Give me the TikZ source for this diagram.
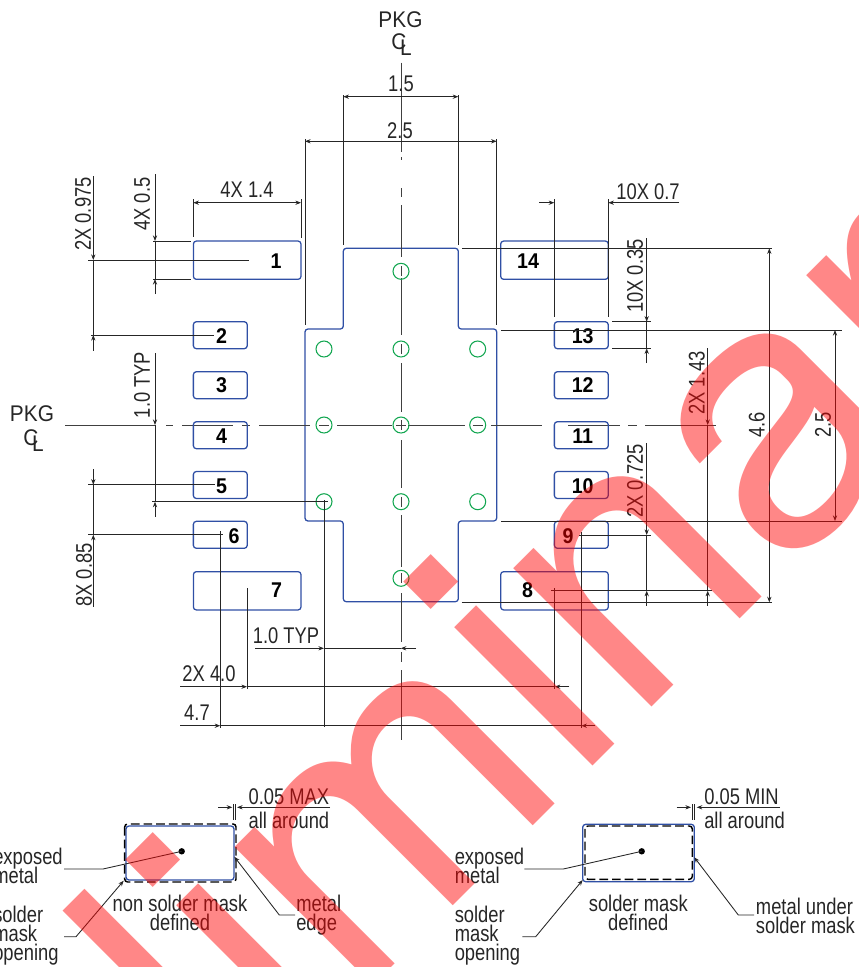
\documentclass[tikz,border=0pt]{standalone}
\usepackage{fontspec}
\setmainfont[FakeStretch=0.81]{Liberation Sans}
\newfontfamily\pkgfont[FakeStretch=0.92]{Liberation Sans}
\newfontfamily\wmfont{TeX Gyre Heros}
\usetikzlibrary{arrows.meta, positioning}
\AtBeginDocument{\lineskiplimit=-20pt}

\tikzset{
	pad/.style={draw=padblue, line width=0.95pt, rounded corners=2.2pt, inner sep=0pt},
	padwide/.style={pad, minimum width=80.7pt, minimum height=28.7pt},
	padsmall/.style={pad, minimum width=40.4pt, minimum height=20.2pt},
	padnum/.style={inner sep=0pt, font=\pkgfont\fontsize{16}{16}\selectfont\bfseries},
	via/.style={circle, draw=viagreen, line width=0.8pt, minimum size=12pt, inner sep=0pt},
	dimtext/.style={inner sep=0pt, text=black!85, font=\fontsize{17}{14.3}\selectfont},
	pkgtext/.style={inner sep=0pt, text=black!85, font=\pkgfont\fontsize{17}{17}\selectfont},
	dimline/.style={draw=black!85, line width=0.65pt},
	dimarrow/.style={dimline, -{Stealth[length=4.2pt,width=3.2pt]}},
	dimboth/.style={dimline, {Stealth[length=4.2pt,width=3.2pt]}-{Stealth[length=4.2pt,width=3.2pt]}},
	cline/.style={draw=black!75, line width=0.65pt}
}
\definecolor{padblue}{HTML}{2F4FA5}
\definecolor{viagreen}{HTML}{12A650}

\begin{document}
\begin{tikzpicture}[x=0.75pt, y=-0.75pt]
	\path[use as bounding box, clip] (0,0) rectangle (858,967);

	% exposed thermal pad
	\draw[padblue, line width=0.95pt, rounded corners=2.2pt] (343.3,248.3) -- (458.3,248.3) -- (458.3,329)
		-- (496.7,329) -- (496.7,521) -- (458.3,521) -- (458.3,601.7) -- (343.3,601.7) -- (343.3,521)
		-- (305,521) -- (305,329) -- (343.3,329) -- cycle;

	% centre lines
	\draw[cline] (401,62.7) -- (401,152) (401,157) -- (401,160) (401,188) -- (401,197) (401,205) -- (401,257)
		(401,278) -- (401,335) (401,363) -- (401,412) (401,440) -- (401,488) (401,515) -- (401,567)
		(401,593) -- (401,642) (401,652) -- (401,662) (401,670) -- (401,740);
	\draw[cline] (65,425) -- (155,425) (166,425) -- (173,425) (182,425) -- (233,425) (242,425) -- (250,425)
		(259,425) -- (310,425) (337,425) -- (392,425) (408,425) -- (465,425) (491,425) -- (541.7,425)
		(568,425) -- (620,425) (628,425) -- (637,425) (645,425) -- (716,425);

	% vias
	\foreach \x/\y/\name in {401/271.3/a, 324/349/b, 401/349/c, 477.7/349/d, 401/501.7/e, 477.7/501.7/f, 324/501.7/g, 401/578.3/h, 324/425/i, 401/425/j, 477.7/425/k}
		\node[via] (via\name) at (\x,\y) {};
	\foreach \x/\y in {401/271.3, 401/349, 401/425, 401/501.7, 401/578.3}
		\draw[cline] (\x,\y-5) -- (\x,\y+5);
	\foreach \x in {324, 401, 477.7}
		\draw[cline] (\x-5,425) -- (\x+5,425);

	% pads
	\node[padwide] (pad1) at (247.2,260.2) {};
	\node[padsmall] (pad2) at (220.3,335.2) {};
	\node[padsmall] (pad3) at (220.3,385.2) {};
	\node[padsmall] (pad4) at (220.3,435.2) {};
	\node[padsmall] (pad5) at (220.3,485) {};
	\node[padsmall] (pad6) at (220.3,534.8) {};
	\node[padwide] (pad7) at (247.2,590.8) {};
	\node[padwide] (pad8) at (554.5,590.8) {};
	\node[padsmall] (pad9) at (581.3,534.8) {};
	\node[padsmall] (pad10) at (581.3,485) {};
	\node[padsmall] (pad11) at (581.3,435.2) {};
	\node[padsmall] (pad12) at (581.3,385.2) {};
	\node[padsmall] (pad13) at (581.3,335.2) {};
	\node[padwide] (pad14) at (554.5,260.2) {};

	\foreach \x/\y/\n in {276/261/1, 221.5/336.5/2, 221.5/385/3, 221.5/436/4, 221.5/486/5, 234/536/6, 276.5/590/7, 527.7/590/8, 568/536/9, 582.7/486/10, 582.7/436/11, 582.7/385/12, 582.7/336.5/13, 528/261/14}
		\node[padnum] (num\n) at (\x,\y) {\n};

	% package centre marks
	\node[pkgtext] (pkgtop) at (400.5,20) {PKG};
	\node[pkgtext] (ctop) at (399,42) {C};
	\node[pkgtext] (ltop) at (406,48) {L};
	\node[pkgtext] (pkgleft) at (32,414) {PKG};
	\node[pkgtext] (cleft) at (31,438) {C};
	\node[pkgtext] (lleft) at (38,444) {L};

	% top dimensions
	\draw[dimline] (343.3,95) -- (343.3,245) (458.3,95) -- (458.3,245);
	\draw[dimboth] (343.3,96.7) -- (458.3,96.7);
	\node[dimtext] (d15) at (401,84) {1.5};
	\draw[dimline] (305,139) -- (305,325) (496.7,139) -- (496.7,325);
	\draw[dimboth] (305,141.3) -- (496.7,141.3);
	\node[dimtext] (d25) at (400,131) {2.5};

	\draw[dimline] (193.3,199) -- (193.3,237) (301,199) -- (301,238);
	\draw[dimboth] (193.3,202.7) -- (301,202.7);
	\node[dimtext] (d14) at (247,190) {4X 1.4};

	\draw[dimline] (554.3,199) -- (554.3,317) (608.3,199) -- (608.3,317);
	\draw[dimarrow] (539.3,202.7) -- (554.3,202.7);
	\draw[dimarrow] (679.3,202.7) -- (608.3,202.7);
	\node[dimtext] (d07) at (648,192) {10X 0.7};

	% left dimensions
	\draw[dimline] (93.3,260) -- (93.3,335) (88,260) -- (249,260) (91,335) -- (214,335);
	\draw[dimarrow] (93.3,176) -- (93.3,260);
	\draw[dimarrow] (93.3,350.7) -- (93.3,335);
	\node[dimtext, rotate=90] (d0975) at (83,214) {2X 0.975};

	\draw[dimline] (155,241) -- (155,279) (153,241) -- (191,241) (153,279) -- (191,279);
	\draw[dimarrow] (155,174) -- (155,241);
	\draw[dimarrow] (155,294) -- (155,279);
	\node[dimtext, rotate=90] (d05) at (142,204) {4X 0.5};

	\draw[dimline] (155,425) -- (155,501.7) (152.3,501.7) -- (328,501.7);
	\draw[dimarrow] (155,353) -- (155,425);
	\draw[dimarrow] (155,516.7) -- (155,501.7);
	\node[dimtext, rotate=90] (d10v) at (142,385) {1.0 TYP};

	\draw[dimline] (93.3,484.7) -- (93.3,534.7) (88,484.7) -- (215,484.7) (88,534.7) -- (223,534.7);
	\draw[dimarrow] (93.3,469) -- (93.3,484.7);
	\draw[dimarrow] (93.3,606.7) -- (93.3,534.7);
	\node[dimtext, rotate=90] (d085) at (84,575) {8X 0.85};

	% bottom dimensions
	\draw[dimline] (324,648.3) -- (400.7,648.3) (324,500) -- (324,727);
	\draw[dimarrow] (255,648.3) -- (324,648.3);
	\draw[dimarrow] (416,648.3) -- (400.7,648.3);
	\node[dimtext] (d10h) at (286,636) {1.0 TYP};

	\draw[dimline] (247,588) -- (247,689) (554.7,588.3) -- (554.7,689) (247,686.7) -- (554.7,686.7);
	\draw[dimarrow] (180,686.7) -- (247,686.7);
	\draw[dimarrow] (569.3,686.7) -- (554.7,686.7);
	\node[dimtext] (d40) at (209,674) {2X 4.0};

	\draw[dimline] (220.3,531) -- (220.3,728) (581.3,532.3) -- (581.3,728) (220.3,725.7) -- (581.3,725.7);
	\draw[dimarrow] (180,725.7) -- (220.3,725.7);
	\draw[dimarrow] (595,725.7) -- (581.3,725.7);
	\node[dimtext] (d47) at (197,713) {4.7};

	% right dimensions
	\draw[dimline] (646.7,321.7) -- (646.7,348.3) (612.3,321.7) -- (650.7,321.7) (612.3,348.3) -- (650.7,348.3);
	\draw[dimarrow] (646.7,238) -- (646.7,321.7);
	\draw[dimarrow] (646.7,363) -- (646.7,348.3);
	\node[dimtext, rotate=90] (d035) at (635,276) {10X 0.35};

	\draw[dimline] (462.3,248.3) -- (772.3,248.3) (461.7,602.3) -- (772.3,602.3);
	\draw[dimboth] (769.3,248.3) -- (769.3,602.3);
	\node[dimtext, rotate=90] (d46) at (756.7,425) {4.6};

	\draw[dimline] (501,330) -- (841.7,330) (501,521) -- (841.7,521);
	\draw[dimboth] (835,330) -- (835,521);
	\node[dimtext, rotate=90] (d25r) at (823,425) {2.5};

	\draw[dimline] (707.7,425) -- (707.7,590.7) (551,590.7) -- (711.7,590.7);
	\draw[dimarrow] (707.7,348.3) -- (707.7,425);
	\draw[dimarrow] (707.7,605.7) -- (707.7,590.7);
	\node[dimtext, rotate=90] (d143) at (696.7,383) {2X 1.43};

	\draw[dimline] (646.7,535) -- (646.7,590.7) (579.3,535) -- (650.7,535);
	\draw[dimarrow] (646.7,443) -- (646.7,535);
	\draw[dimarrow] (646.7,605.7) -- (646.7,590.7);
	\node[dimtext, rotate=90] (d0725) at (635,481) {2X 0.725};

	% non solder mask defined
	\node[pad, minimum width=81pt, minimum height=40.5pt] (nsmd) at (180,853) {};
	\draw[black, line width=1.1pt, dash pattern=on 6.5pt off 3pt, rounded corners=2.2pt] (124.7,824) rectangle (236,882);
	\fill (181.7,851.3) circle (3.2);
	\node[dimtext, anchor=west, align=left] (exp1) at (-7,866) {exposed\\metal};
	\node[dimtext, anchor=west, align=left] (open1) at (-7,936) {solder\\mask\\opening};
	\node[dimtext, align=center] (cap1) at (180,913) {non solder mask\\defined};
	\node[dimtext, anchor=west, align=left] (edge1) at (296,915.5) {metal\\edge};
	\draw[dimline] (64,869) -- (103,869) -- (181.7,851.3);
	\draw[dimarrow] (64,936.7) -- (76,936.7) -- (123.7,880.7);
	\draw[dimarrow] (295,915) -- (279.3,915) -- (234.3,856.7);
	\draw[dimarrow] (218.3,807.3) -- (232.3,807.3);
	\draw[dimarrow] (330,807.3) -- (237,807.3);
	\draw[dimline] (233.3,804) -- (233.3,820) (235.3,804) -- (235.3,820);
	\node[dimtext, anchor=west] (max) at (248.3,797) {0.05 MAX};
	\node[dimtext, anchor=west] (around1) at (248.3,820.7) {all around};

	% solder mask defined
	\node[pad, minimum width=83.7pt, minimum height=43pt] (smd) at (638.5,853) {};
	\draw[black, line width=1.1pt, dash pattern=on 6.5pt off 3pt, rounded corners=2.2pt] (585,826) rectangle (692.3,879.3);
	\fill (641.7,851.3) circle (3.2);
	\node[dimtext, anchor=west, align=left] (exp2) at (454.5,866) {exposed\\metal};
	\node[dimtext, anchor=west, align=left] (open2) at (454.5,936) {solder\\mask\\opening};
	\node[dimtext, align=center] (cap2) at (638.3,913) {solder mask\\defined};
	\node[dimtext, anchor=west, align=left] (under) at (755.7,915.5) {metal under\\solder mask};
	\draw[dimline] (524.3,869) -- (563.3,869) -- (641.7,851.3);
	\draw[dimarrow] (522.3,936.7) -- (535.7,936.7) -- (582.7,880);
	\draw[dimarrow] (754,915) -- (738.3,915) -- (694.3,857.3);
	\draw[dimarrow] (676.7,807.3) -- (691,807.3);
	\draw[dimarrow] (780,807.3) -- (696.7,807.3);
	\draw[dimline] (692.3,804) -- (692.3,820) (694.3,804) -- (694.3,820);
	\node[dimtext, anchor=west] (min) at (704,797) {0.05 MIN};
	\node[dimtext, anchor=west] (around2) at (704,820.7) {all around};

	% watermark
	\node[rotate=45, anchor=base west, inner sep=0pt, text=red, opacity=0.47, font=\wmfont\fontsize{280}{280}\selectfont] (prelim) at (-171,1530) {Preliminary};
\end{tikzpicture}
\end{document}
